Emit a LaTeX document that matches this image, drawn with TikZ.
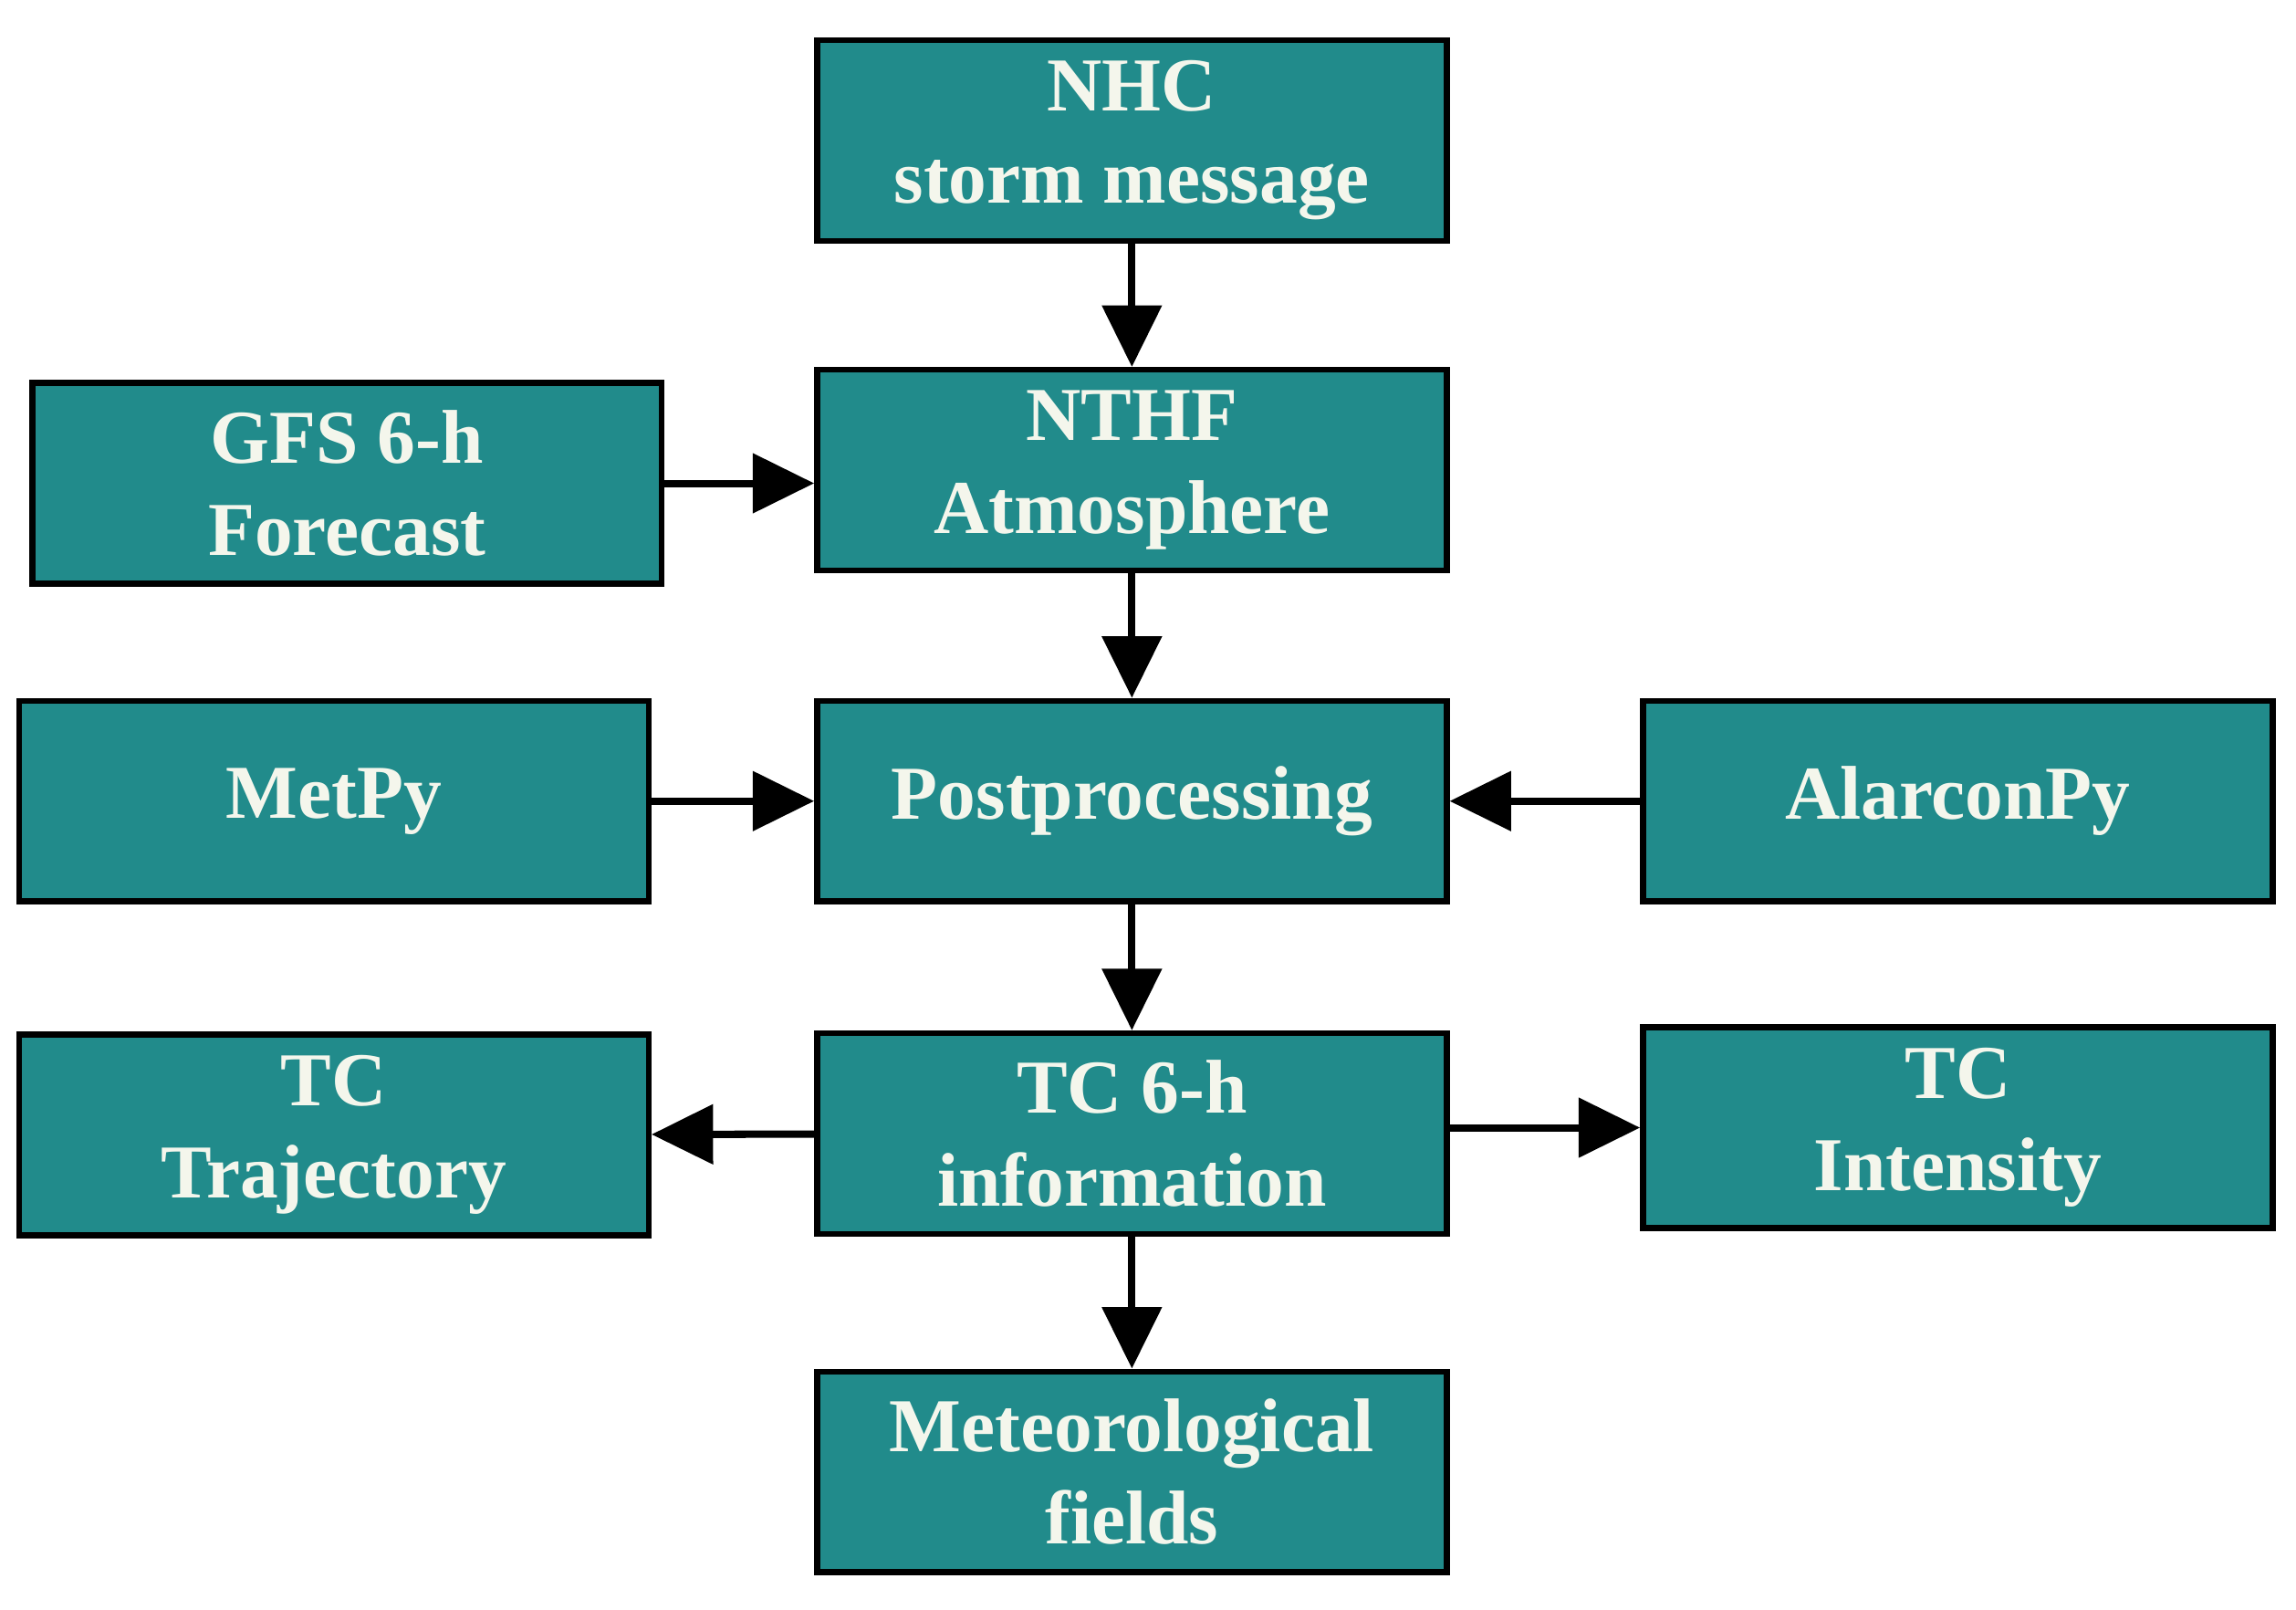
\documentclass[tikz,border=0pt]{standalone}
\usepackage{fontspec}
\setmainfont{Liberation Serif}
\usetikzlibrary{arrows.meta}
\definecolor{teal1}{HTML}{218B8B}
\definecolor{txt}{HTML}{F4F6EC}
\begin{document}
\begin{tikzpicture}[x=1pt,y=-1pt,
  box/.style={draw=black,line width=4pt,fill=teal1,text=txt,minimum width=430pt,minimum height=137pt,inner sep=0pt,align=center,font=\fontsize{52}{63}\selectfont\bfseries},
  arr/.style={line width=5pt,-{Triangle[length=42pt,width=40pt]}}]
\useasboundingbox (0,0) rectangle (1568,1099);
\node[box] (nhc) at (773,96) {NHC\\storm message};
\node[box] (nthf) at (773,321) {NTHF\\Atmosphere};
\node[box] (gfs) at (237,330) {GFS 6-h\\Forecast};
\node[box] (met) at (228,547) {MetPy};
\node[box] (post) at (773,547) {Postprocessing};
\node[box] (alar) at (1337,547) {AlarconPy};
\node[box] (traj) at (228,775) {TC\\Trajectory};
\node[box] (tc6) at (773,774) {TC 6-h\\information};
\node[box] (int) at (1337,770) {TC\\Intensity};
\node[box] (mf) at (773,1005) {Meteorological\\fields};
\draw[arr] (nhc) -- (nthf);
\draw[arr] (gfs.east) -- (gfs.east -| nthf.west);
\draw[arr] (nthf) -- (post);
\draw[arr] (met) -- (post);
\draw[arr] (alar) -- (post);
\draw[arr] (post) -- (tc6);
\draw[arr] (tc6) -- (traj);
\draw[arr] (tc6.east |- int.west) -- (int.west);
\draw[arr] (tc6) -- (mf);
\end{tikzpicture}
\end{document}
